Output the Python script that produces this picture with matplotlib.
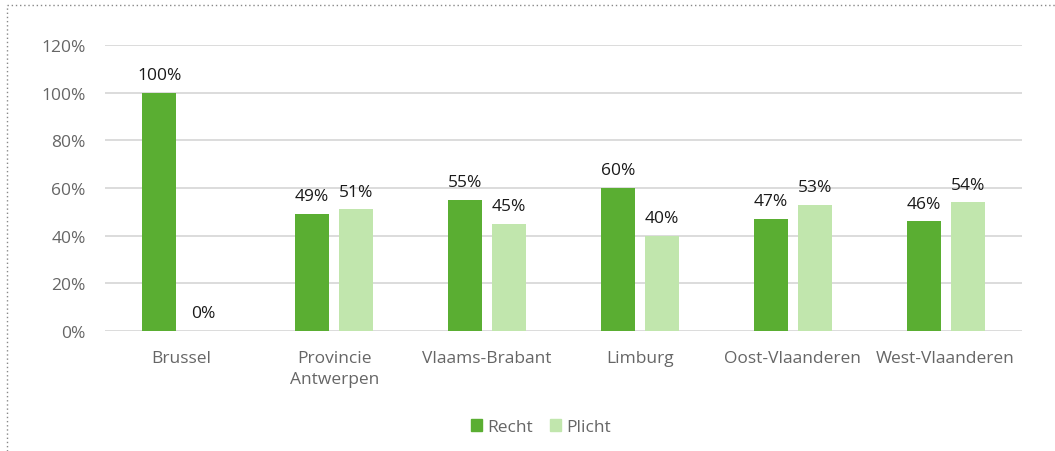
import matplotlib
matplotlib.use("Agg")
import matplotlib.pyplot as plt
import numpy as np
from matplotlib.lines import Line2D

plt.rcParams['font.family'] = ['Open Sans', 'DejaVu Sans']

categories = ["Brussel", "Provincie\nAntwerpen", "Vlaams-Brabant", "Limburg",
              "Oost-Vlaanderen", "West-Vlaanderen"]
recht = [100, 49, 55, 60, 47, 46]
plicht = [0, 51, 45, 40, 53, 54]
yticks = [0, 20, 40, 60, 80, 100, 120]

c_recht = "#5aae32"
c_plicht = "#c1e6ad"

fig = plt.figure(figsize=(10.55, 4.52), dpi=100)
ax = fig.add_axes([105/1055, 1-332/452, (1022-105)/1055, (332-46)/452])

x = np.arange(len(categories))
w = 0.222
off = 0.144
b1 = ax.bar(x - off, recht, w, color=c_recht, label="Recht", zorder=3)
b2 = ax.bar(x + off, plicht, w, color=c_plicht, label="Plicht", zorder=3)

for bars, vals in ((b1, recht), (b2, plicht)):
    for b, v in zip(bars, vals):
        ax.annotate(f"{v}%", (b.get_x() + b.get_width()/2, v),
                    xytext=(0, 7), textcoords="offset points",
                    ha="center", va="bottom", fontsize=12.5, color="#1a1a1a")

ax.set_xlim(-0.5, len(categories) - 0.5)
ax.set_ylim(0, 120)
ax.set_yticks(yticks)
ax.set_yticklabels([f"{t}%" for t in yticks])
ax.set_xticks(x)
ax.set_xticklabels(categories, linespacing=1.35)
ax.tick_params(axis='both', length=0, labelsize=12.5, labelcolor="#666666")
ax.tick_params(axis='y', pad=14)
ax.tick_params(axis='x', pad=14)
ax.grid(axis='y', color="#d9d9d9", linewidth=1.3, zorder=0)
for s in ax.spines.values():
    s.set_visible(False)

handles = [plt.Rectangle((0, 0), 1, 1, color=c_recht), plt.Rectangle((0, 0), 1, 1, color=c_plicht)]
fig.legend(handles, ["Recht", "Plicht"], loc="center", bbox_to_anchor=(541/1055, 1-428/452),
           ncol=2, frameon=False, fontsize=12.5, labelcolor="#666666",
           handlelength=0.65, handleheight=0.65, handletextpad=0.3, columnspacing=1.0)

# dotted border (top and left)
fig.add_artist(Line2D([7/1055, 1], [1-6/452, 1-6/452], transform=fig.transFigure,
                      color="#888888", linestyle=(0, (1, 2)), linewidth=1))
fig.add_artist(Line2D([7/1055, 7/1055], [0, 1-6/452], transform=fig.transFigure,
                      color="#888888", linestyle=(0, (1, 2)), linewidth=1))

fig.savefig("out.png", dpi=100)
